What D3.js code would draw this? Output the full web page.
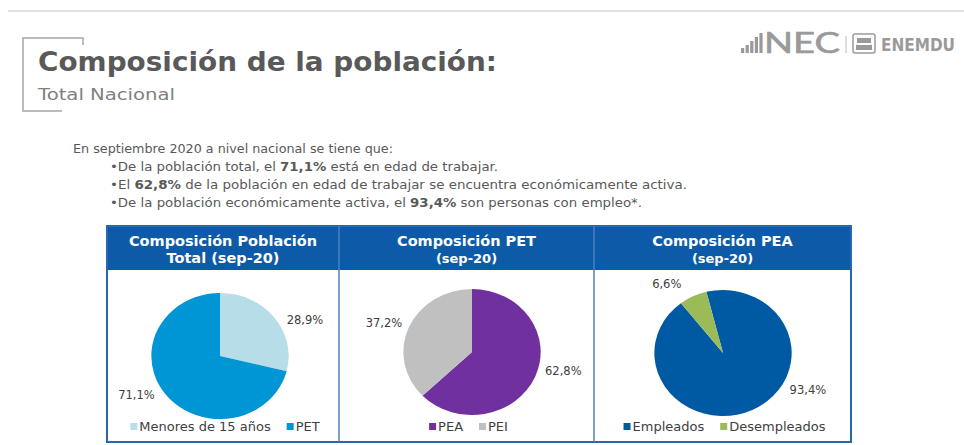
<!DOCTYPE html>
<html>
<head>
<meta charset="utf-8">
<script src="https://cdn.jsdelivr.net/npm/d3@7"></script>
<style>
  body { margin:0; background:#fff; }
  svg { display:block; font-family:"DejaVu Sans", sans-serif; }
</style>
</head>
<body>
<svg id="chart" width="964" height="445"></svg>
<script>
const w = 964, h = 445;

// data
const panelTitles = [["Composición Población", "Total (sep-20)"], ["Composición PET", "(sep-20)"], ["Composición PEA", "(sep-20)"]];
const panelCats = [["Menores de 15 años", "PET"], ["PEA", "PEI"], ["Empleados", "Desempleados"]];
const panelValues = [[28.9, 71.1], [62.8, 37.2], [93.4, 6.6]];
const panelColors = [["#b7dde8", "#0095d5"], ["#7030a0", "#c0c0c0"], ["#005aa3", "#9bbb59"]];
const introLine = "En septiembre 2020 a nivel nacional se tiene que:";
const bullets = [
  ["•De la población total, el ", "71,1%", " está en edad de trabajar."],
  ["•El ", "62,8%", " de la población en edad de trabajar se encuentra económicamente activa."],
  ["•De la población económicamente activa, el ", "93,4%", " son personas con empleo*."]
];

// layout
const table = {x0:107, x1:851, y0:226, yHead:270, y1:442, cols:[107, 339, 594, 851]};
const pieLayout = [
  {cx:220, cy:356, start:0, nudge:[13, 11]},
  {cx:472, cy:352, start:0, nudge:[-10, -3]},
  {cx:723, cy:353, start:-14, nudge:[-39, -11]}
];
const r = 63, sx = 1.09, labelR = 86;
const legendY = 431;

const fmt = v => v.toFixed(1).replace(".", ",") + "%";
const svg = d3.select("#chart");

// top rule
svg.append("line").attr("x1", 8).attr("x2", w).attr("y1", 11).attr("y2", 11)
  .attr("stroke", "#c4c4c4").attr("stroke-width", 1.2);

// title bracket
svg.append("path").attr("d", "M83,45V38H23V111H62")
  .attr("fill", "none").attr("stroke", "#a6a6a6").attr("stroke-width", 1.5);
svg.append("text").attr("x", 38).attr("y", 71)
  .attr("font-size", 27).attr("font-weight", "bold").attr("fill", "#595959")
  .attr("textLength", 459).attr("lengthAdjust", "spacingAndGlyphs")
  .text("Composición de la población:");
svg.append("text").attr("x", 38).attr("y", 100)
  .attr("font-size", 16).attr("fill", "#7f7f7f")
  .attr("textLength", 137).attr("lengthAdjust", "spacingAndGlyphs")
  .text("Total Nacional");

// logo
const logo = svg.append("g").attr("fill", "#9a9a9a");
[5, 8, 12, 16, 20].forEach((bh, i) => {
  logo.append("rect").attr("x", 741 + i * 4.6).attr("y", 53 - bh).attr("width", 3.2).attr("height", bh);
});
logo.append("text").attr("x", 764).attr("y", 53).attr("font-size", 28)
  .attr("font-family", "Lato").attr("stroke", "#9a9a9a").attr("stroke-width", 0.6)
  .attr("textLength", 76).attr("lengthAdjust", "spacingAndGlyphs").text("NEC");
logo.append("rect").attr("x", 845.5).attr("y", 36).attr("width", 1).attr("height", 17).attr("fill", "#bbb");
logo.append("rect").attr("x", 853).attr("y", 34).attr("width", 22).attr("height", 19).attr("rx", 2)
  .attr("fill", "none").attr("stroke", "#9a9a9a").attr("stroke-width", 1.5);
logo.append("rect").attr("x", 857).attr("y", 38).attr("width", 14).attr("height", 5);
logo.append("rect").attr("x", 856).attr("y", 45).attr("width", 16).attr("height", 5);
logo.append("text").attr("x", 881).attr("y", 51).attr("font-size", 17).attr("font-weight", "bold")
  .attr("textLength", 74).attr("lengthAdjust", "spacingAndGlyphs").text("ENEMDU");

// intro text
svg.append("text").attr("x", 73).attr("y", 153).attr("font-size", 11.5).attr("fill", "#595959")
  .attr("textLength", 320).attr("lengthAdjust", "spacingAndGlyphs").text(introLine);
const bulletLen = [388, 577, 532];
bullets.forEach((b, i) => {
  const t = svg.append("text").attr("x", 110).attr("y", 171 + i * 18).attr("font-size", 11.5)
    .attr("fill", "#595959").attr("textLength", bulletLen[i]).attr("lengthAdjust", "spacingAndGlyphs");
  b.forEach((part, j) => t.append("tspan").attr("font-weight", j === 1 ? "bold" : null).text(part));
});

// table
svg.append("rect").attr("x", table.x0).attr("y", table.y0)
  .attr("width", table.x1 - table.x0).attr("height", table.y1 - table.y0)
  .attr("fill", "#fff");
svg.append("rect").attr("x", table.x0).attr("y", table.y0)
  .attr("width", table.x1 - table.x0).attr("height", table.yHead - table.y0)
  .attr("fill", "#0d5ba8");
svg.append("rect").attr("x", table.x0).attr("y", table.y0)
  .attr("width", table.x1 - table.x0).attr("height", table.y1 - table.y0)
  .attr("fill", "none").attr("stroke", "#2a66b0").attr("stroke-width", 2);
table.cols.slice(1, 3).forEach(x => {
  svg.append("line").attr("x1", x).attr("x2", x).attr("y1", table.y0).attr("y2", table.y1)
    .attr("stroke", "#4b7fc0").attr("stroke-width", 1.5);
});

panelTitles.forEach((lines, i) => {
  const cx = (table.cols[i] + table.cols[i + 1]) / 2;
  lines.forEach((l, j) => {
    svg.append("text").attr("x", cx).attr("y", 246 + j * 17).attr("text-anchor", "middle")
      .attr("font-size", i === 0 || j === 0 ? 14.5 : 13).attr("font-weight", "bold").attr("fill", "#fff")
      .text(l);
  });
});

// pies
panelValues.forEach((vals, i) => {
  const L = pieLayout[i];
  const a0 = L.start * Math.PI / 180;
  const pie = d3.pie().sort(null).startAngle(a0).endAngle(a0 + 2 * Math.PI);
  const arcs = pie(vals);
  const arc = d3.arc().innerRadius(0).outerRadius(r);
  const g = svg.append("g").attr("transform", `translate(${L.cx},${L.cy}) scale(${sx},1)`);
  g.selectAll("path").data(arcs).enter().append("path")
    .attr("d", arc).attr("fill", (d, j) => panelColors[i][j]);

  arcs.forEach((d, j) => {
    const a = (d.startAngle + d.endAngle) / 2 + L.nudge[j] * Math.PI / 180;
    svg.append("text")
      .attr("x", L.cx + Math.sin(a) * labelR * sx)
      .attr("y", L.cy - Math.cos(a) * labelR + 4)
      .attr("text-anchor", "middle").attr("font-size", 11.5).attr("fill", "#404040")
      .text(fmt(d.data));
  });

  // legend, laid out from measured text widths
  const cats = panelCats[i];
  const lg = svg.append("g");
  const items = cats.map((c, j) => {
    const it = lg.append("g");
    it.append("rect").attr("x", 0).attr("y", -8).attr("width", 7).attr("height", 7)
      .attr("fill", panelColors[i][j]);
    const t = it.append("text").attr("x", 9).attr("y", 0).attr("font-size", 13).attr("fill", "#404040")
      .text(c);
    return {g: it, w: 9 + t.node().getComputedTextLength()};
  });
  const gap = 16;
  const total = d3.sum(items, d => d.w) + gap * (items.length - 1);
  const colCx = (table.cols[i] + table.cols[i + 1]) / 2 + 2;
  let x = colCx - total / 2;
  items.forEach(it => {
    it.g.attr("transform", `translate(${x},${legendY})`);
    x += it.w + gap;
  });
});
</script>
</body>
</html>
